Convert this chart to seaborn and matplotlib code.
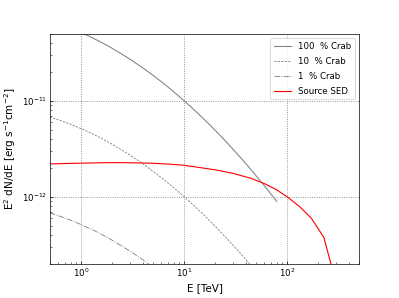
import matplotlib
matplotlib.use("Agg")
import matplotlib.pyplot as plt
import seaborn as sns
import numpy as np
import pandas as pd

# Energies (TeV) for the Crab reference curves
crab_energy = [0.5, 0.631, 0.794, 1.0, 1.259, 1.585, 1.995, 2.512, 3.162, 3.981,
               5.012, 6.310, 7.943, 10.0, 12.59, 15.85, 19.95, 25.12, 31.62,
               39.81, 50.12, 63.10, 79.43]
# E^2 dN/dE (erg s^-1 cm^-2)
crab_100 = [6.82e-11, 6.28e-11, 5.73e-11, 5.17e-11, 4.62e-11, 4.08e-11, 3.56e-11,
            3.07e-11, 2.62e-11, 2.22e-11, 1.85e-11, 1.53e-11, 1.25e-11, 1.01e-11,
            8.06e-12, 6.37e-12, 4.98e-12, 3.85e-12, 2.94e-12, 2.23e-12, 1.66e-12,
            1.23e-12, 9.0e-13]
crab_10 = [6.82e-12, 6.28e-12, 5.73e-12, 5.17e-12, 4.62e-12, 4.08e-12, 3.56e-12,
           3.07e-12, 2.62e-12, 2.22e-12, 1.85e-12, 1.53e-12, 1.25e-12, 1.01e-12,
           8.06e-13, 6.37e-13, 4.98e-13, 3.85e-13, 2.94e-13, 2.23e-13, 1.66e-13,
           1.23e-13, 9.0e-14]
crab_1 = [6.82e-13, 6.28e-13, 5.73e-13, 5.17e-13, 4.62e-13, 4.08e-13, 3.56e-13,
          3.07e-13, 2.62e-13, 2.22e-13, 1.85e-13, 1.53e-13, 1.25e-13, 1.01e-13,
          8.06e-14, 6.37e-14, 4.98e-14, 3.85e-14, 2.94e-14, 2.23e-14, 1.66e-14,
          1.23e-14, 9.0e-15]

# Source SED
sed_energy = [0.5, 0.7, 1.0, 1.5, 2.2, 3.2, 4.7, 7.0, 10.0, 14.0, 20.0, 30.0,
              45.0, 60.0, 78.0, 102.0, 133.0, 172.0, 227.0, 297.0]
sed_flux = [2.21e-12, 2.23e-12, 2.25e-12, 2.27e-12, 2.28e-12, 2.27e-12, 2.25e-12,
            2.20e-12, 2.14e-12, 2.03e-12, 1.92e-12, 1.76e-12, 1.56e-12, 1.38e-12,
            1.20e-12, 9.9e-13, 7.9e-13, 6.0e-13, 3.8e-13, 1.3e-13]

labels = ["100  % Crab", "10  % Crab", "1  % Crab", "Source SED"]

plt.rcParams["font.size"] = 10
plt.rcParams["axes.labelsize"] = 12

fig, ax = plt.subplots(figsize=(6.4, 4.78), dpi=62.35)
fig.subplots_adjust(left=0.125, right=0.9, top=0.886, bottom=0.114)

sns.lineplot(x=crab_energy, y=crab_100, ax=ax, color="gray", lw=1.2,
             label=labels[0], estimator=None, sort=False)
sns.lineplot(x=crab_energy, y=crab_10, ax=ax, color="gray", lw=1.0,
             linestyle=(0, (2.5, 1.5)), label=labels[1], estimator=None, sort=False)
sns.lineplot(x=crab_energy, y=crab_1, ax=ax, color="gray", lw=1.0,
             linestyle="-.", label=labels[2], estimator=None, sort=False)
sns.lineplot(x=sed_energy, y=sed_flux, ax=ax, color="red", lw=1.3,
             label=labels[3], estimator=None, sort=False)

ax.set_xscale("log")
ax.set_yscale("log")
ax.set_xlim(0.5, 500)
ax.set_ylim(2e-13, 5e-11)
ax.set_xlabel("E [TeV]")
ax.set_ylabel("E$^2$ dN/dE [erg s$^{-1}$cm$^{-2}$]")
ax.grid(True, which="major", linestyle=":", color="gray", lw=1.0)
ax.tick_params(which="both", direction="in", top=False, right=False)
ax.legend(loc="upper right", labelspacing=0.7)

fig.savefig("out.png", dpi=62.35)
